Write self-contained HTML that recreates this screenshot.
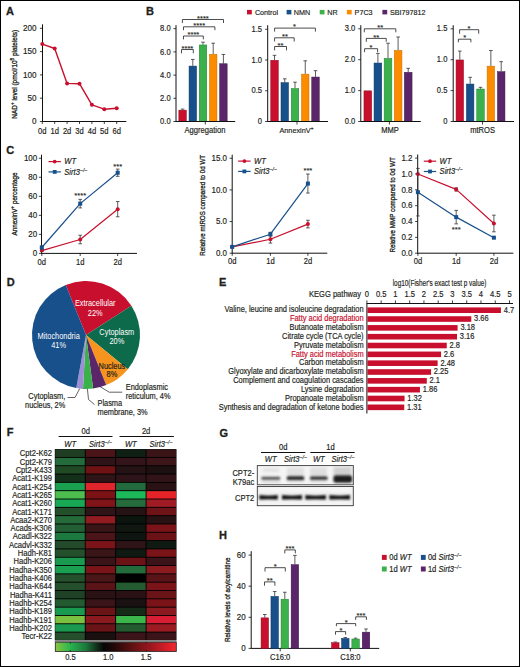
<!DOCTYPE html>
<html><head><meta charset="utf-8"><style>
html,body{margin:0;padding:0;background:#fff;}
body{width:520px;height:667px;overflow:hidden;}
svg{display:block;font-family:"Liberation Sans",sans-serif;}
text{stroke:#231f20;stroke-width:0.18px;}
</style></head><body>
<svg width="520" height="667" viewBox="0 0 520 667">
<rect x="0" y="0" width="520" height="667" fill="#fff"/>
<g fill="#231f20">
<text x="6.00" y="15.00" font-size="11" font-weight="bold" style="stroke-width:0.3px">A</text>
<line x1="42.50" y1="24.30" x2="42.50" y2="121.90" stroke="#111" stroke-width="1.0"/>
<line x1="39.90" y1="28.30" x2="42.50" y2="28.30" stroke="#111" stroke-width="0.8"/>
<text transform="translate(36.60,30.90) scale(0.9091,1)" x="0" y="0" font-size="8.91" text-anchor="end">200</text>
<line x1="39.90" y1="51.60" x2="42.50" y2="51.60" stroke="#111" stroke-width="0.8"/>
<text transform="translate(36.60,54.20) scale(0.9091,1)" x="0" y="0" font-size="8.91" text-anchor="end">150</text>
<line x1="39.90" y1="74.90" x2="42.50" y2="74.90" stroke="#111" stroke-width="0.8"/>
<text transform="translate(36.60,77.50) scale(0.9091,1)" x="0" y="0" font-size="8.91" text-anchor="end">100</text>
<line x1="39.90" y1="98.20" x2="42.50" y2="98.20" stroke="#111" stroke-width="0.8"/>
<text transform="translate(36.60,100.80) scale(0.9091,1)" x="0" y="0" font-size="8.91" text-anchor="end">50</text>
<line x1="39.90" y1="121.50" x2="42.50" y2="121.50" stroke="#111" stroke-width="0.8"/>
<text transform="translate(36.60,124.10) scale(0.9091,1)" x="0" y="0" font-size="8.91" text-anchor="end">0</text>
<line x1="42.50" y1="121.50" x2="126.30" y2="121.50" stroke="#111" stroke-width="1.0"/>
<line x1="42.30" y1="121.50" x2="42.30" y2="124.00" stroke="#111" stroke-width="0.8"/>
<text transform="translate(42.30,133.50) scale(0.9091,1)" x="0" y="0" font-size="8.36" text-anchor="middle">0d</text>
<line x1="54.70" y1="121.50" x2="54.70" y2="124.00" stroke="#111" stroke-width="0.8"/>
<text transform="translate(54.70,133.50) scale(0.9091,1)" x="0" y="0" font-size="8.36" text-anchor="middle">1d</text>
<line x1="67.10" y1="121.50" x2="67.10" y2="124.00" stroke="#111" stroke-width="0.8"/>
<text transform="translate(67.10,133.50) scale(0.9091,1)" x="0" y="0" font-size="8.36" text-anchor="middle">2d</text>
<line x1="79.50" y1="121.50" x2="79.50" y2="124.00" stroke="#111" stroke-width="0.8"/>
<text transform="translate(79.50,133.50) scale(0.9091,1)" x="0" y="0" font-size="8.36" text-anchor="middle">3d</text>
<line x1="91.90" y1="121.50" x2="91.90" y2="124.00" stroke="#111" stroke-width="0.8"/>
<text transform="translate(91.90,133.50) scale(0.9091,1)" x="0" y="0" font-size="8.36" text-anchor="middle">4d</text>
<line x1="104.30" y1="121.50" x2="104.30" y2="124.00" stroke="#111" stroke-width="0.8"/>
<text transform="translate(104.30,133.50) scale(0.9091,1)" x="0" y="0" font-size="8.36" text-anchor="middle">5d</text>
<line x1="116.70" y1="121.50" x2="116.70" y2="124.00" stroke="#111" stroke-width="0.8"/>
<text transform="translate(116.70,133.50) scale(0.9091,1)" x="0" y="0" font-size="8.36" text-anchor="middle">6d</text>
<polyline points="42.30,44.10 54.70,48.50 67.10,83.40 79.50,83.70 91.90,104.80 104.30,109.20 116.70,108.30" fill="none" stroke="#c8102e" stroke-width="1.4" stroke-linejoin="round"/>
<circle cx="42.30" cy="44.10" r="2.0" fill="#c8102e"/>
<circle cx="54.70" cy="48.50" r="2.0" fill="#c8102e"/>
<circle cx="67.10" cy="83.40" r="2.0" fill="#c8102e"/>
<circle cx="79.50" cy="83.70" r="2.0" fill="#c8102e"/>
<circle cx="91.90" cy="104.80" r="2.0" fill="#c8102e"/>
<circle cx="104.30" cy="109.20" r="2.0" fill="#c8102e"/>
<circle cx="116.70" cy="108.30" r="2.0" fill="#c8102e"/>
<text transform="translate(16.90,74.30) rotate(-90)" x="0" y="0" font-size="8.0" text-anchor="middle" textLength="88.8" lengthAdjust="spacingAndGlyphs" style="stroke-width:0.32px">NAD<tspan font-size="70%" baseline-shift="2.9">+</tspan> level (pmol/10<tspan font-size="70%" baseline-shift="2.9">8</tspan> platelets)</text>
<text x="146.00" y="14.60" font-size="11" font-weight="bold" style="stroke-width:0.3px">B</text>
<rect x="247.00" y="9.90" width="4.80" height="4.50" fill="#c8102e"/>
<text transform="translate(254.90,14.50) scale(0.9091,1)" x="0" y="0" font-size="7.92">Control</text>
<rect x="286.60" y="9.90" width="4.80" height="4.50" fill="#17508a"/>
<text transform="translate(293.80,14.50) scale(0.9091,1)" x="0" y="0" font-size="7.92">NMN</text>
<rect x="319.70" y="9.90" width="4.80" height="4.50" fill="#3ab14a"/>
<text transform="translate(327.20,14.50) scale(0.9091,1)" x="0" y="0" font-size="7.92">NR</text>
<rect x="346.90" y="9.90" width="4.80" height="4.50" fill="#fb8c00"/>
<text transform="translate(354.60,14.50) scale(0.9091,1)" x="0" y="0" font-size="7.92">P7C3</text>
<rect x="382.40" y="9.90" width="4.80" height="4.50" fill="#5a2569"/>
<text transform="translate(389.90,14.50) scale(0.9091,1)" x="0" y="0" font-size="7.92">SBI797812</text>
<line x1="176.00" y1="25.20" x2="176.00" y2="121.90" stroke="#111" stroke-width="1.0"/>
<line x1="173.40" y1="28.70" x2="176.00" y2="28.70" stroke="#111" stroke-width="0.8"/>
<text transform="translate(170.60,31.30) scale(0.9091,1)" x="0" y="0" font-size="8.36" text-anchor="end">8.0</text>
<line x1="173.40" y1="51.90" x2="176.00" y2="51.90" stroke="#111" stroke-width="0.8"/>
<text transform="translate(170.60,54.50) scale(0.9091,1)" x="0" y="0" font-size="8.36" text-anchor="end">6.0</text>
<line x1="173.40" y1="75.10" x2="176.00" y2="75.10" stroke="#111" stroke-width="0.8"/>
<text transform="translate(170.60,77.70) scale(0.9091,1)" x="0" y="0" font-size="8.36" text-anchor="end">4.0</text>
<line x1="173.40" y1="98.30" x2="176.00" y2="98.30" stroke="#111" stroke-width="0.8"/>
<text transform="translate(170.60,100.90) scale(0.9091,1)" x="0" y="0" font-size="8.36" text-anchor="end">2.0</text>
<line x1="173.40" y1="121.50" x2="176.00" y2="121.50" stroke="#111" stroke-width="0.8"/>
<text transform="translate(170.60,124.10) scale(0.9091,1)" x="0" y="0" font-size="8.36" text-anchor="end">0.0</text>
<line x1="182.60" y1="109.09" x2="182.60" y2="109.90" stroke="#333" stroke-width="0.8"/>
<line x1="180.80" y1="109.09" x2="184.40" y2="109.09" stroke="#333" stroke-width="0.8"/>
<rect x="178.85" y="110.15" width="7.50" height="11.35" fill="#c8102e" stroke="#8e0b20" stroke-width="0.5"/>
<line x1="192.80" y1="59.44" x2="192.80" y2="65.82" stroke="#333" stroke-width="0.8"/>
<line x1="191.00" y1="59.44" x2="194.60" y2="59.44" stroke="#333" stroke-width="0.8"/>
<rect x="189.05" y="66.07" width="7.50" height="55.43" fill="#17508a" stroke="#0c3762" stroke-width="0.5"/>
<line x1="203.00" y1="42.16" x2="203.00" y2="44.71" stroke="#333" stroke-width="0.8"/>
<line x1="201.20" y1="42.16" x2="204.80" y2="42.16" stroke="#333" stroke-width="0.8"/>
<rect x="199.25" y="44.96" width="7.50" height="76.54" fill="#3ab14a" stroke="#257f33" stroke-width="0.5"/>
<line x1="213.20" y1="43.20" x2="213.20" y2="53.99" stroke="#333" stroke-width="0.8"/>
<line x1="211.40" y1="43.20" x2="215.00" y2="43.20" stroke="#333" stroke-width="0.8"/>
<rect x="209.45" y="54.24" width="7.50" height="67.26" fill="#fb8c00" stroke="#c96f00" stroke-width="0.5"/>
<line x1="223.40" y1="54.45" x2="223.40" y2="63.50" stroke="#333" stroke-width="0.8"/>
<line x1="221.60" y1="54.45" x2="225.20" y2="54.45" stroke="#333" stroke-width="0.8"/>
<rect x="219.65" y="63.75" width="7.50" height="57.75" fill="#5a2569" stroke="#3b1648" stroke-width="0.5"/>
<line x1="176.00" y1="121.50" x2="235.20" y2="121.50" stroke="#111" stroke-width="1.0"/>
<line x1="205.30" y1="121.50" x2="205.30" y2="124.50" stroke="#111" stroke-width="0.8"/>

<text transform="translate(205.00,133.00) scale(0.9091,1)" x="0" y="0" font-size="8.36" text-anchor="middle">Aggregation</text>
<polyline points="181.50,53.30 181.50,49.50 193.30,49.50 193.30,53.30" fill="none" stroke="#111" stroke-width="0.75"/>
<text x="187.40" y="50.71" font-size="7.6" text-anchor="middle" style="stroke-width:0.1px">****</text>
<polyline points="183.50,39.40 183.50,36.00 203.30,36.00 203.30,39.40" fill="none" stroke="#111" stroke-width="0.75"/>
<text x="193.40" y="37.21" font-size="7.6" text-anchor="middle" style="stroke-width:0.1px">****</text>
<polyline points="183.50,30.20 183.50,26.80 214.90,26.80 214.90,30.20" fill="none" stroke="#111" stroke-width="0.75"/>
<text x="199.20" y="28.01" font-size="7.6" text-anchor="middle" style="stroke-width:0.1px">****</text>
<polyline points="182.40,23.00 182.40,19.50 223.50,19.50 223.50,23.00" fill="none" stroke="#111" stroke-width="0.75"/>
<text x="202.90" y="20.81" font-size="7.6" text-anchor="middle" style="stroke-width:0.1px">****</text>
<line x1="267.70" y1="25.20" x2="267.70" y2="121.90" stroke="#111" stroke-width="1.0"/>
<line x1="265.10" y1="29.25" x2="267.70" y2="29.25" stroke="#111" stroke-width="0.8"/>
<text transform="translate(262.00,31.85) scale(0.9091,1)" x="0" y="0" font-size="8.36" text-anchor="end">1.5</text>
<line x1="265.10" y1="60.00" x2="267.70" y2="60.00" stroke="#111" stroke-width="0.8"/>
<text transform="translate(262.00,62.60) scale(0.9091,1)" x="0" y="0" font-size="8.36" text-anchor="end">1.0</text>
<line x1="265.10" y1="90.75" x2="267.70" y2="90.75" stroke="#111" stroke-width="0.8"/>
<text transform="translate(262.00,93.35) scale(0.9091,1)" x="0" y="0" font-size="8.36" text-anchor="end">0.5</text>
<line x1="265.10" y1="121.50" x2="267.70" y2="121.50" stroke="#111" stroke-width="0.8"/>
<text transform="translate(262.00,124.10) scale(0.9091,1)" x="0" y="0" font-size="8.36" text-anchor="end">0</text>
<line x1="274.50" y1="55.33" x2="274.50" y2="60.00" stroke="#333" stroke-width="0.8"/>
<line x1="272.70" y1="55.33" x2="276.30" y2="55.33" stroke="#333" stroke-width="0.8"/>
<rect x="270.75" y="60.25" width="7.50" height="61.25" fill="#c8102e" stroke="#8e0b20" stroke-width="0.5"/>
<line x1="284.75" y1="78.82" x2="284.75" y2="82.39" stroke="#333" stroke-width="0.8"/>
<line x1="282.95" y1="78.82" x2="286.55" y2="78.82" stroke="#333" stroke-width="0.8"/>
<rect x="281.00" y="82.64" width="7.50" height="38.86" fill="#17508a" stroke="#0c3762" stroke-width="0.5"/>
<line x1="295.00" y1="82.20" x2="295.00" y2="88.29" stroke="#333" stroke-width="0.8"/>
<line x1="293.20" y1="82.20" x2="296.80" y2="82.20" stroke="#333" stroke-width="0.8"/>
<rect x="291.25" y="88.54" width="7.50" height="32.96" fill="#3ab14a" stroke="#257f33" stroke-width="0.5"/>
<line x1="305.25" y1="60.80" x2="305.25" y2="73.90" stroke="#333" stroke-width="0.8"/>
<line x1="303.45" y1="60.80" x2="307.05" y2="60.80" stroke="#333" stroke-width="0.8"/>
<rect x="301.50" y="74.15" width="7.50" height="47.35" fill="#fb8c00" stroke="#c96f00" stroke-width="0.5"/>
<line x1="315.50" y1="70.70" x2="315.50" y2="76.79" stroke="#333" stroke-width="0.8"/>
<line x1="313.70" y1="70.70" x2="317.30" y2="70.70" stroke="#333" stroke-width="0.8"/>
<rect x="311.75" y="77.04" width="7.50" height="44.46" fill="#5a2569" stroke="#3b1648" stroke-width="0.5"/>
<line x1="267.70" y1="121.50" x2="328.00" y2="121.50" stroke="#111" stroke-width="1.0"/>
<line x1="297.00" y1="121.50" x2="297.00" y2="124.50" stroke="#111" stroke-width="0.8"/>

<text transform="translate(0.00,133.00) scale(0.9091,1)" x="0" y="0" font-size="8.36" text-anchor="middle"></text>
<polyline points="274.60,50.40 274.60,46.50 286.50,46.50 286.50,50.40" fill="none" stroke="#111" stroke-width="0.75"/>
<text x="280.50" y="47.71" font-size="7.6" text-anchor="middle" style="stroke-width:0.1px">**</text>
<polyline points="274.60,41.50 274.60,37.80 294.20,37.80 294.20,41.50" fill="none" stroke="#111" stroke-width="0.75"/>
<text x="284.90" y="38.61" font-size="7.6" text-anchor="middle" style="stroke-width:0.1px">**</text>
<polyline points="274.60,31.60 274.60,28.10 315.40,28.10 315.40,31.60" fill="none" stroke="#111" stroke-width="0.75"/>
<text x="294.60" y="29.01" font-size="7.6" text-anchor="middle" style="stroke-width:0.1px">*</text>
<text transform="translate(296.60,133.20) scale(0.9091,1)" x="0" y="0" font-size="8.03" text-anchor="middle">AnnexinV<tspan font-size="5.94" dy="-3.3">+</tspan></text>
<line x1="360.80" y1="25.20" x2="360.80" y2="121.90" stroke="#111" stroke-width="1.0"/>
<line x1="358.20" y1="28.80" x2="360.80" y2="28.80" stroke="#111" stroke-width="0.8"/>
<text transform="translate(355.30,31.40) scale(0.9091,1)" x="0" y="0" font-size="8.36" text-anchor="end">3.0</text>
<line x1="358.20" y1="59.70" x2="360.80" y2="59.70" stroke="#111" stroke-width="0.8"/>
<text transform="translate(355.30,62.30) scale(0.9091,1)" x="0" y="0" font-size="8.36" text-anchor="end">2.0</text>
<line x1="358.20" y1="90.60" x2="360.80" y2="90.60" stroke="#111" stroke-width="0.8"/>
<text transform="translate(355.30,93.20) scale(0.9091,1)" x="0" y="0" font-size="8.36" text-anchor="end">1.0</text>
<line x1="358.20" y1="121.50" x2="360.80" y2="121.50" stroke="#111" stroke-width="0.8"/>
<text transform="translate(355.30,124.10) scale(0.9091,1)" x="0" y="0" font-size="8.36" text-anchor="end">0.0</text>
<rect x="363.95" y="90.85" width="7.70" height="30.65" fill="#c8102e" stroke="#8e0b20" stroke-width="0.5"/>
<line x1="377.90" y1="53.40" x2="377.90" y2="62.79" stroke="#333" stroke-width="0.8"/>
<line x1="376.10" y1="53.40" x2="379.70" y2="53.40" stroke="#333" stroke-width="0.8"/>
<rect x="374.05" y="63.04" width="7.70" height="58.46" fill="#17508a" stroke="#0c3762" stroke-width="0.5"/>
<line x1="388.00" y1="43.20" x2="388.00" y2="58.16" stroke="#333" stroke-width="0.8"/>
<line x1="386.20" y1="43.20" x2="389.80" y2="43.20" stroke="#333" stroke-width="0.8"/>
<rect x="384.15" y="58.41" width="7.70" height="63.09" fill="#3ab14a" stroke="#257f33" stroke-width="0.5"/>
<line x1="398.10" y1="36.99" x2="398.10" y2="50.12" stroke="#333" stroke-width="0.8"/>
<line x1="396.30" y1="36.99" x2="399.90" y2="36.99" stroke="#333" stroke-width="0.8"/>
<rect x="394.25" y="50.37" width="7.70" height="71.13" fill="#fb8c00" stroke="#c96f00" stroke-width="0.5"/>
<line x1="408.20" y1="68.35" x2="408.20" y2="72.06" stroke="#333" stroke-width="0.8"/>
<line x1="406.40" y1="68.35" x2="410.00" y2="68.35" stroke="#333" stroke-width="0.8"/>
<rect x="404.35" y="72.31" width="7.70" height="49.19" fill="#5a2569" stroke="#3b1648" stroke-width="0.5"/>
<line x1="360.80" y1="121.50" x2="420.80" y2="121.50" stroke="#111" stroke-width="1.0"/>
<line x1="389.40" y1="121.50" x2="389.40" y2="124.50" stroke="#111" stroke-width="0.8"/>

<text transform="translate(390.00,133.00) scale(0.9091,1)" x="0" y="0" font-size="8.36" text-anchor="middle">MMP</text>
<polyline points="364.60,52.20 364.60,48.70 377.60,48.70 377.60,52.20" fill="none" stroke="#111" stroke-width="0.75"/>
<text x="371.00" y="49.71" font-size="7.6" text-anchor="middle" style="stroke-width:0.1px">*</text>
<polyline points="366.30,41.80 366.30,38.40 386.20,38.40 386.20,41.80" fill="none" stroke="#111" stroke-width="0.75"/>
<text x="376.20" y="39.61" font-size="7.6" text-anchor="middle" style="stroke-width:0.1px">**</text>
<polyline points="364.30,32.30 364.30,28.80 395.80,28.80 395.80,32.30" fill="none" stroke="#111" stroke-width="0.75"/>
<text x="380.20" y="30.01" font-size="7.6" text-anchor="middle" style="stroke-width:0.1px">**</text>
<line x1="453.20" y1="25.20" x2="453.20" y2="121.90" stroke="#111" stroke-width="1.0"/>
<line x1="450.60" y1="28.80" x2="453.20" y2="28.80" stroke="#111" stroke-width="0.8"/>
<text transform="translate(447.40,31.40) scale(0.9091,1)" x="0" y="0" font-size="8.36" text-anchor="end">1.5</text>
<line x1="450.60" y1="59.70" x2="453.20" y2="59.70" stroke="#111" stroke-width="0.8"/>
<text transform="translate(447.40,62.30) scale(0.9091,1)" x="0" y="0" font-size="8.36" text-anchor="end">1.0</text>
<line x1="450.60" y1="90.60" x2="453.20" y2="90.60" stroke="#111" stroke-width="0.8"/>
<text transform="translate(447.40,93.20) scale(0.9091,1)" x="0" y="0" font-size="8.36" text-anchor="end">0.5</text>
<line x1="450.60" y1="121.50" x2="453.20" y2="121.50" stroke="#111" stroke-width="0.8"/>
<text transform="translate(447.40,124.10) scale(0.9091,1)" x="0" y="0" font-size="8.36" text-anchor="end">0</text>
<line x1="459.80" y1="51.05" x2="459.80" y2="59.70" stroke="#333" stroke-width="0.8"/>
<line x1="458.00" y1="51.05" x2="461.60" y2="51.05" stroke="#333" stroke-width="0.8"/>
<rect x="456.05" y="59.95" width="7.50" height="61.55" fill="#c8102e" stroke="#8e0b20" stroke-width="0.5"/>
<line x1="470.15" y1="77.31" x2="470.15" y2="83.80" stroke="#333" stroke-width="0.8"/>
<line x1="468.35" y1="77.31" x2="471.95" y2="77.31" stroke="#333" stroke-width="0.8"/>
<rect x="466.40" y="84.05" width="7.50" height="37.45" fill="#17508a" stroke="#0c3762" stroke-width="0.5"/>
<line x1="480.50" y1="87.32" x2="480.50" y2="88.75" stroke="#333" stroke-width="0.8"/>
<line x1="478.70" y1="87.32" x2="482.30" y2="87.32" stroke="#333" stroke-width="0.8"/>
<rect x="476.75" y="89.00" width="7.50" height="32.50" fill="#3ab14a" stroke="#257f33" stroke-width="0.5"/>
<line x1="490.85" y1="50.49" x2="490.85" y2="65.88" stroke="#333" stroke-width="0.8"/>
<line x1="489.05" y1="50.49" x2="492.65" y2="50.49" stroke="#333" stroke-width="0.8"/>
<rect x="487.10" y="66.13" width="7.50" height="55.37" fill="#fb8c00" stroke="#c96f00" stroke-width="0.5"/>
<line x1="501.20" y1="61.68" x2="501.20" y2="71.44" stroke="#333" stroke-width="0.8"/>
<line x1="499.40" y1="61.68" x2="503.00" y2="61.68" stroke="#333" stroke-width="0.8"/>
<rect x="497.45" y="71.69" width="7.50" height="49.81" fill="#5a2569" stroke="#3b1648" stroke-width="0.5"/>
<line x1="453.20" y1="121.50" x2="514.00" y2="121.50" stroke="#111" stroke-width="1.0"/>
<line x1="482.50" y1="121.50" x2="482.50" y2="124.50" stroke="#111" stroke-width="0.8"/>

<text transform="translate(482.60,133.00) scale(0.9091,1)" x="0" y="0" font-size="8.36" text-anchor="middle">mtROS</text>
<polyline points="458.40,42.30 458.40,39.20 470.90,39.20 470.90,42.30" fill="none" stroke="#111" stroke-width="0.75"/>
<text x="464.80" y="40.41" font-size="7.6" text-anchor="middle" style="stroke-width:0.1px">*</text>
<polyline points="459.60,33.70 459.60,29.70 478.70,29.70 478.70,33.70" fill="none" stroke="#111" stroke-width="0.75"/>
<text x="469.10" y="31.11" font-size="7.6" text-anchor="middle" style="stroke-width:0.1px">*</text>
<text x="6.20" y="154.40" font-size="11" font-weight="bold" style="stroke-width:0.3px">C</text>
<line x1="41.50" y1="154.70" x2="41.50" y2="253.80" stroke="#111" stroke-width="1.0"/>
<line x1="38.90" y1="158.25" x2="41.50" y2="158.25" stroke="#111" stroke-width="0.8"/>
<text transform="translate(37.20,160.95) scale(0.9091,1)" x="0" y="0" font-size="8.80" text-anchor="end">100</text>
<line x1="38.90" y1="177.28" x2="41.50" y2="177.28" stroke="#111" stroke-width="0.8"/>
<text transform="translate(37.20,179.98) scale(0.9091,1)" x="0" y="0" font-size="8.80" text-anchor="end">80</text>
<line x1="38.90" y1="196.31" x2="41.50" y2="196.31" stroke="#111" stroke-width="0.8"/>
<text transform="translate(37.20,199.01) scale(0.9091,1)" x="0" y="0" font-size="8.80" text-anchor="end">60</text>
<line x1="38.90" y1="215.34" x2="41.50" y2="215.34" stroke="#111" stroke-width="0.8"/>
<text transform="translate(37.20,218.04) scale(0.9091,1)" x="0" y="0" font-size="8.80" text-anchor="end">40</text>
<line x1="38.90" y1="234.37" x2="41.50" y2="234.37" stroke="#111" stroke-width="0.8"/>
<text transform="translate(37.20,237.07) scale(0.9091,1)" x="0" y="0" font-size="8.80" text-anchor="end">20</text>
<line x1="38.90" y1="253.40" x2="41.50" y2="253.40" stroke="#111" stroke-width="0.8"/>
<text transform="translate(37.20,256.10) scale(0.9091,1)" x="0" y="0" font-size="8.80" text-anchor="end">0</text>
<line x1="41.50" y1="253.40" x2="137.00" y2="253.40" stroke="#111" stroke-width="1.0"/>
<line x1="41.80" y1="253.40" x2="41.80" y2="256.00" stroke="#111" stroke-width="0.8"/>
<text transform="translate(41.80,264.60) scale(0.9091,1)" x="0" y="0" font-size="8.36" text-anchor="middle">0d</text>
<line x1="80.20" y1="253.40" x2="80.20" y2="256.00" stroke="#111" stroke-width="0.8"/>
<text transform="translate(80.20,264.60) scale(0.9091,1)" x="0" y="0" font-size="8.36" text-anchor="middle">1d</text>
<line x1="117.70" y1="253.40" x2="117.70" y2="256.00" stroke="#111" stroke-width="0.8"/>
<text transform="translate(117.70,264.60) scale(0.9091,1)" x="0" y="0" font-size="8.36" text-anchor="middle">2d</text>
<polyline points="41.80,250.55 80.20,239.51 117.70,209.16" fill="none" stroke="#c8102e" stroke-width="1.2" stroke-linejoin="round"/>
<line x1="41.80" y1="249.59" x2="41.80" y2="251.50" stroke="#333" stroke-width="0.8"/>
<line x1="40.00" y1="249.59" x2="43.60" y2="249.59" stroke="#333" stroke-width="0.8"/>
<line x1="40.00" y1="251.50" x2="43.60" y2="251.50" stroke="#333" stroke-width="0.8"/>
<circle cx="41.80" cy="250.55" r="2.0" fill="#c8102e"/>
<line x1="80.20" y1="235.23" x2="80.20" y2="243.79" stroke="#333" stroke-width="0.8"/>
<line x1="78.40" y1="235.23" x2="82.00" y2="235.23" stroke="#333" stroke-width="0.8"/>
<line x1="78.40" y1="243.79" x2="82.00" y2="243.79" stroke="#333" stroke-width="0.8"/>
<circle cx="80.20" cy="239.51" r="2.0" fill="#c8102e"/>
<line x1="117.70" y1="201.54" x2="117.70" y2="216.77" stroke="#333" stroke-width="0.8"/>
<line x1="115.90" y1="201.54" x2="119.50" y2="201.54" stroke="#333" stroke-width="0.8"/>
<line x1="115.90" y1="216.77" x2="119.50" y2="216.77" stroke="#333" stroke-width="0.8"/>
<circle cx="117.70" cy="209.16" r="2.0" fill="#c8102e"/>
<polyline points="41.80,247.50 80.20,203.64 117.70,172.71" fill="none" stroke="#17508a" stroke-width="1.2" stroke-linejoin="round"/>
<line x1="41.80" y1="246.07" x2="41.80" y2="248.93" stroke="#333" stroke-width="0.8"/>
<line x1="40.00" y1="246.07" x2="43.60" y2="246.07" stroke="#333" stroke-width="0.8"/>
<line x1="40.00" y1="248.93" x2="43.60" y2="248.93" stroke="#333" stroke-width="0.8"/>
<rect x="39.80" y="245.50" width="4.00" height="4.00" fill="#17508a"/>
<line x1="80.20" y1="199.35" x2="80.20" y2="207.92" stroke="#333" stroke-width="0.8"/>
<line x1="78.40" y1="199.35" x2="82.00" y2="199.35" stroke="#333" stroke-width="0.8"/>
<line x1="78.40" y1="207.92" x2="82.00" y2="207.92" stroke="#333" stroke-width="0.8"/>
<rect x="78.20" y="201.64" width="4.00" height="4.00" fill="#17508a"/>
<line x1="117.70" y1="169.10" x2="117.70" y2="176.33" stroke="#333" stroke-width="0.8"/>
<line x1="115.90" y1="169.10" x2="119.50" y2="169.10" stroke="#333" stroke-width="0.8"/>
<line x1="115.90" y1="176.33" x2="119.50" y2="176.33" stroke="#333" stroke-width="0.8"/>
<rect x="115.70" y="170.71" width="4.00" height="4.00" fill="#17508a"/>
<line x1="48.50" y1="161.60" x2="60.90" y2="161.60" stroke="#c8102e" stroke-width="1.2"/>
<circle cx="54.70" cy="161.60" r="1.9" fill="#c8102e"/>
<text transform="translate(64.30,164.20) scale(0.9091,1)" x="0" y="0" font-size="8.36" font-style="italic">WT</text>
<line x1="48.50" y1="171.90" x2="60.90" y2="171.90" stroke="#17508a" stroke-width="1.2"/>
<rect x="52.80" y="170.00" width="3.80" height="3.80" fill="#17508a"/>
<text transform="translate(64.30,174.50) scale(0.9091,1)" x="0" y="0" font-size="8.36" font-style="italic" text-anchor="start">Sirt3<tspan font-size="5.72" dy="-3.0">&#8722;/&#8722;</tspan></text>
<text transform="translate(17.30,204.00) rotate(-90)" x="0" y="0" font-size="8.0" text-anchor="middle" textLength="63.0" lengthAdjust="spacingAndGlyphs" style="stroke-width:0.32px">AnnexinV<tspan font-size="70%" baseline-shift="2.9">+</tspan> percentage</text>
<text x="80.20" y="197.81" font-size="7.6" text-anchor="middle" style="stroke-width:0.1px">****</text>
<text x="117.70" y="169.01" font-size="7.6" text-anchor="middle" style="stroke-width:0.1px">***</text>
<line x1="232.20" y1="154.70" x2="232.20" y2="253.60" stroke="#111" stroke-width="1.0"/>
<line x1="229.60" y1="158.25" x2="232.20" y2="158.25" stroke="#111" stroke-width="0.8"/>
<text transform="translate(227.00,160.95) scale(0.9091,1)" x="0" y="0" font-size="8.80" text-anchor="end">15.0</text>
<line x1="229.60" y1="189.90" x2="232.20" y2="189.90" stroke="#111" stroke-width="0.8"/>
<text transform="translate(227.00,192.60) scale(0.9091,1)" x="0" y="0" font-size="8.80" text-anchor="end">10.0</text>
<line x1="229.60" y1="221.55" x2="232.20" y2="221.55" stroke="#111" stroke-width="0.8"/>
<text transform="translate(227.00,224.25) scale(0.9091,1)" x="0" y="0" font-size="8.80" text-anchor="end">5.0</text>
<line x1="229.60" y1="253.20" x2="232.20" y2="253.20" stroke="#111" stroke-width="0.8"/>
<text transform="translate(227.00,255.90) scale(0.9091,1)" x="0" y="0" font-size="8.80" text-anchor="end">0.0</text>
<line x1="232.20" y1="253.20" x2="327.30" y2="253.20" stroke="#111" stroke-width="1.0"/>
<line x1="232.20" y1="253.20" x2="232.20" y2="255.80" stroke="#111" stroke-width="0.8"/>
<text transform="translate(232.20,264.40) scale(0.9091,1)" x="0" y="0" font-size="8.36" text-anchor="middle">0d</text>
<line x1="270.40" y1="253.20" x2="270.40" y2="255.80" stroke="#111" stroke-width="0.8"/>
<text transform="translate(270.40,264.40) scale(0.9091,1)" x="0" y="0" font-size="8.36" text-anchor="middle">1d</text>
<line x1="307.90" y1="253.20" x2="307.90" y2="255.80" stroke="#111" stroke-width="0.8"/>
<text transform="translate(307.90,264.40) scale(0.9091,1)" x="0" y="0" font-size="8.36" text-anchor="middle">2d</text>
<polyline points="232.20,246.87 270.40,239.27 307.90,224.08" fill="none" stroke="#c8102e" stroke-width="1.2" stroke-linejoin="round"/>
<line x1="232.20" y1="246.24" x2="232.20" y2="247.50" stroke="#333" stroke-width="0.8"/>
<line x1="230.40" y1="246.24" x2="234.00" y2="246.24" stroke="#333" stroke-width="0.8"/>
<line x1="230.40" y1="247.50" x2="234.00" y2="247.50" stroke="#333" stroke-width="0.8"/>
<circle cx="232.20" cy="246.87" r="2.0" fill="#c8102e"/>
<line x1="270.40" y1="235.48" x2="270.40" y2="243.07" stroke="#333" stroke-width="0.8"/>
<line x1="268.60" y1="235.48" x2="272.20" y2="235.48" stroke="#333" stroke-width="0.8"/>
<line x1="268.60" y1="243.07" x2="272.20" y2="243.07" stroke="#333" stroke-width="0.8"/>
<circle cx="270.40" cy="239.27" r="2.0" fill="#c8102e"/>
<line x1="307.90" y1="220.28" x2="307.90" y2="227.88" stroke="#333" stroke-width="0.8"/>
<line x1="306.10" y1="220.28" x2="309.70" y2="220.28" stroke="#333" stroke-width="0.8"/>
<line x1="306.10" y1="227.88" x2="309.70" y2="227.88" stroke="#333" stroke-width="0.8"/>
<circle cx="307.90" cy="224.08" r="2.0" fill="#c8102e"/>
<polyline points="232.20,246.87 270.40,234.21 307.90,183.57" fill="none" stroke="#17508a" stroke-width="1.2" stroke-linejoin="round"/>
<line x1="232.20" y1="246.24" x2="232.20" y2="247.50" stroke="#333" stroke-width="0.8"/>
<line x1="230.40" y1="246.24" x2="234.00" y2="246.24" stroke="#333" stroke-width="0.8"/>
<line x1="230.40" y1="247.50" x2="234.00" y2="247.50" stroke="#333" stroke-width="0.8"/>
<rect x="230.20" y="244.87" width="4.00" height="4.00" fill="#17508a"/>
<line x1="270.40" y1="232.31" x2="270.40" y2="236.11" stroke="#333" stroke-width="0.8"/>
<line x1="268.60" y1="232.31" x2="272.20" y2="232.31" stroke="#333" stroke-width="0.8"/>
<line x1="268.60" y1="236.11" x2="272.20" y2="236.11" stroke="#333" stroke-width="0.8"/>
<rect x="268.40" y="232.21" width="4.00" height="4.00" fill="#17508a"/>
<line x1="307.90" y1="174.07" x2="307.90" y2="193.06" stroke="#333" stroke-width="0.8"/>
<line x1="306.10" y1="174.07" x2="309.70" y2="174.07" stroke="#333" stroke-width="0.8"/>
<line x1="306.10" y1="193.06" x2="309.70" y2="193.06" stroke="#333" stroke-width="0.8"/>
<rect x="305.90" y="181.57" width="4.00" height="4.00" fill="#17508a"/>
<line x1="238.20" y1="161.10" x2="250.60" y2="161.10" stroke="#c8102e" stroke-width="1.2"/>
<circle cx="244.40" cy="161.10" r="1.9" fill="#c8102e"/>
<text transform="translate(254.00,163.70) scale(0.9091,1)" x="0" y="0" font-size="8.36" font-style="italic">WT</text>
<line x1="238.20" y1="171.40" x2="250.60" y2="171.40" stroke="#17508a" stroke-width="1.2"/>
<rect x="242.50" y="169.50" width="3.80" height="3.80" fill="#17508a"/>
<text transform="translate(254.00,174.00) scale(0.9091,1)" x="0" y="0" font-size="8.36" font-style="italic" text-anchor="start">Sirt3<tspan font-size="5.72" dy="-3.0">&#8722;/&#8722;</tspan></text>
<text transform="translate(205.40,205.30) rotate(-90)" x="0" y="0" font-size="8.0" text-anchor="middle" textLength="100.7" lengthAdjust="spacingAndGlyphs" style="stroke-width:0.32px">Relative mtROS compared to 0d WT</text>
<text x="307.90" y="173.41" font-size="7.6" text-anchor="middle" style="stroke-width:0.1px">***</text>
<line x1="417.70" y1="154.50" x2="417.70" y2="253.60" stroke="#111" stroke-width="1.0"/>
<line x1="415.10" y1="158.10" x2="417.70" y2="158.10" stroke="#111" stroke-width="0.8"/>
<text transform="translate(412.50,160.80) scale(0.9091,1)" x="0" y="0" font-size="8.80" text-anchor="end">1.2</text>
<line x1="415.10" y1="173.95" x2="417.70" y2="173.95" stroke="#111" stroke-width="0.8"/>
<text transform="translate(412.50,176.65) scale(0.9091,1)" x="0" y="0" font-size="8.80" text-anchor="end">1.0</text>
<line x1="415.10" y1="189.80" x2="417.70" y2="189.80" stroke="#111" stroke-width="0.8"/>
<text transform="translate(412.50,192.50) scale(0.9091,1)" x="0" y="0" font-size="8.80" text-anchor="end">0.8</text>
<line x1="415.10" y1="205.65" x2="417.70" y2="205.65" stroke="#111" stroke-width="0.8"/>
<text transform="translate(412.50,208.35) scale(0.9091,1)" x="0" y="0" font-size="8.80" text-anchor="end">0.6</text>
<line x1="415.10" y1="221.50" x2="417.70" y2="221.50" stroke="#111" stroke-width="0.8"/>
<text transform="translate(412.50,224.20) scale(0.9091,1)" x="0" y="0" font-size="8.80" text-anchor="end">0.4</text>
<line x1="415.10" y1="237.35" x2="417.70" y2="237.35" stroke="#111" stroke-width="0.8"/>
<text transform="translate(412.50,240.05) scale(0.9091,1)" x="0" y="0" font-size="8.80" text-anchor="end">0.2</text>
<line x1="415.10" y1="253.20" x2="417.70" y2="253.20" stroke="#111" stroke-width="0.8"/>
<text transform="translate(412.50,255.90) scale(0.9091,1)" x="0" y="0" font-size="8.80" text-anchor="end">0.0</text>
<line x1="417.70" y1="253.20" x2="513.30" y2="253.20" stroke="#111" stroke-width="1.0"/>
<line x1="417.90" y1="253.20" x2="417.90" y2="255.80" stroke="#111" stroke-width="0.8"/>
<text transform="translate(417.90,264.40) scale(0.9091,1)" x="0" y="0" font-size="8.36" text-anchor="middle">0d</text>
<line x1="456.20" y1="253.20" x2="456.20" y2="255.80" stroke="#111" stroke-width="0.8"/>
<text transform="translate(456.20,264.40) scale(0.9091,1)" x="0" y="0" font-size="8.36" text-anchor="middle">1d</text>
<line x1="493.90" y1="253.20" x2="493.90" y2="255.80" stroke="#111" stroke-width="0.8"/>
<text transform="translate(493.90,264.40) scale(0.9091,1)" x="0" y="0" font-size="8.36" text-anchor="middle">2d</text>
<polyline points="417.90,173.95 456.20,189.40 493.90,223.48" fill="none" stroke="#c8102e" stroke-width="1.2" stroke-linejoin="round"/>
<circle cx="417.90" cy="173.95" r="2.0" fill="#c8102e"/>
<line x1="456.20" y1="187.82" x2="456.20" y2="190.99" stroke="#333" stroke-width="0.8"/>
<line x1="454.40" y1="187.82" x2="458.00" y2="187.82" stroke="#333" stroke-width="0.8"/>
<line x1="454.40" y1="190.99" x2="458.00" y2="190.99" stroke="#333" stroke-width="0.8"/>
<circle cx="456.20" cy="189.40" r="2.0" fill="#c8102e"/>
<line x1="493.90" y1="215.16" x2="493.90" y2="231.80" stroke="#333" stroke-width="0.8"/>
<line x1="492.10" y1="215.16" x2="495.70" y2="215.16" stroke="#333" stroke-width="0.8"/>
<line x1="492.10" y1="231.80" x2="495.70" y2="231.80" stroke="#333" stroke-width="0.8"/>
<circle cx="493.90" cy="223.48" r="2.0" fill="#c8102e"/>
<polyline points="417.90,192.18 456.20,217.14 493.90,237.67" fill="none" stroke="#17508a" stroke-width="1.2" stroke-linejoin="round"/>
<line x1="417.90" y1="168.40" x2="417.90" y2="215.95" stroke="#333" stroke-width="0.8"/>
<line x1="416.10" y1="168.40" x2="419.70" y2="168.40" stroke="#333" stroke-width="0.8"/>
<line x1="416.10" y1="215.95" x2="419.70" y2="215.95" stroke="#333" stroke-width="0.8"/>
<rect x="415.90" y="190.18" width="4.00" height="4.00" fill="#17508a"/>
<line x1="456.20" y1="210.40" x2="456.20" y2="223.88" stroke="#333" stroke-width="0.8"/>
<line x1="454.40" y1="210.40" x2="458.00" y2="210.40" stroke="#333" stroke-width="0.8"/>
<line x1="454.40" y1="223.88" x2="458.00" y2="223.88" stroke="#333" stroke-width="0.8"/>
<rect x="454.20" y="215.14" width="4.00" height="4.00" fill="#17508a"/>
<rect x="491.90" y="235.67" width="4.00" height="4.00" fill="#17508a"/>
<line x1="423.80" y1="161.20" x2="436.20" y2="161.20" stroke="#c8102e" stroke-width="1.2"/>
<circle cx="430.00" cy="161.20" r="1.9" fill="#c8102e"/>
<text transform="translate(439.60,163.80) scale(0.9091,1)" x="0" y="0" font-size="8.36" font-style="italic">WT</text>
<line x1="423.80" y1="171.50" x2="436.20" y2="171.50" stroke="#17508a" stroke-width="1.2"/>
<rect x="428.10" y="169.60" width="3.80" height="3.80" fill="#17508a"/>
<text transform="translate(439.60,174.10) scale(0.9091,1)" x="0" y="0" font-size="8.36" font-style="italic" text-anchor="start">Sirt3<tspan font-size="5.72" dy="-3.0">&#8722;/&#8722;</tspan></text>
<text transform="translate(395.20,204.80) rotate(-90)" x="0" y="0" font-size="8.0" text-anchor="middle" textLength="95.5" lengthAdjust="spacingAndGlyphs" style="stroke-width:0.32px">Relative MMP compared to 0d WT</text>
<text x="456.20" y="231.91" font-size="7.6" text-anchor="middle" style="stroke-width:0.1px">***</text>
<text x="6.80" y="285.90" font-size="11" font-weight="bold" style="stroke-width:0.3px">D</text>
<path d="M86.0,335.0 L65.77,284.93 A54.0,54.0 0 0 1 131.39,305.75 Z" fill="#c8102e"/>
<path d="M86.0,335.0 L131.39,305.75 A54.0,54.0 0 0 1 127.85,369.13 Z" fill="#0d6b4c"/>
<path d="M86.0,335.0 L127.85,369.13 A54.0,54.0 0 0 1 106.23,385.07 Z" fill="#f7941d"/>
<path d="M86.0,335.0 L106.23,385.07 A54.0,54.0 0 0 1 93.14,388.53 Z" fill="#5a2569"/>
<path d="M86.0,335.0 L93.14,388.53 A54.0,54.0 0 0 1 82.99,388.92 Z" fill="#3ab14a"/>
<path d="M86.0,335.0 L82.99,388.92 A54.0,54.0 0 0 1 76.25,388.11 Z" fill="#9c8fd6"/>
<path d="M86.0,335.0 L76.25,388.11 A54.0,54.0 0 0 1 65.77,284.93 Z" fill="#17508a"/>
<text transform="translate(95.20,305.60) scale(0.9091,1)" x="0" y="0" font-size="8.14" text-anchor="middle" fill="#ffffff" style="stroke:none">Extracellular</text>
<text transform="translate(95.20,315.80) scale(0.9091,1)" x="0" y="0" font-size="8.14" text-anchor="middle" fill="#ffffff" style="stroke:none">22%</text>
<text transform="translate(58.60,338.80) scale(0.9091,1)" x="0" y="0" font-size="8.14" text-anchor="middle" fill="#ffffff" style="stroke:none">Mitochondria</text>
<text transform="translate(58.60,348.40) scale(0.9091,1)" x="0" y="0" font-size="8.14" text-anchor="middle" fill="#ffffff" style="stroke:none">41%</text>
<text transform="translate(116.80,334.50) scale(0.9091,1)" x="0" y="0" font-size="8.14" text-anchor="middle" fill="#ffffff" style="stroke:none">Cytoplasm</text>
<text transform="translate(116.80,344.00) scale(0.9091,1)" x="0" y="0" font-size="8.14" text-anchor="middle" fill="#ffffff" style="stroke:none">20%</text>
<text transform="translate(111.90,368.60) scale(0.9091,1)" x="0" y="0" font-size="8.14" text-anchor="middle">Nucleus</text>
<text transform="translate(111.90,377.20) scale(0.9091,1)" x="0" y="0" font-size="8.14" text-anchor="middle">8%</text>
<text transform="translate(65.30,398.90) scale(0.9091,1)" x="0" y="0" font-size="8.14" text-anchor="end">Cytoplasm,</text>
<text transform="translate(65.30,407.50) scale(0.9091,1)" x="0" y="0" font-size="8.14" text-anchor="end">nucleus, 2%</text>
<text transform="translate(97.50,406.30) scale(0.9091,1)" x="0" y="0" font-size="8.14">Plasma</text>
<text transform="translate(97.50,415.30) scale(0.9091,1)" x="0" y="0" font-size="8.14">membrane, 3%</text>
<text transform="translate(125.70,390.40) scale(0.9091,1)" x="0" y="0" font-size="8.14">Endoplasmic</text>
<text transform="translate(125.70,399.10) scale(0.9091,1)" x="0" y="0" font-size="8.14">reticulum, 4%</text>
<polyline points="67.60,397.50 75.00,397.50 79.70,388.60" fill="none" stroke="#231f20" stroke-width="0.7" stroke-linejoin="round"/>
<polyline points="87.40,388.80 88.50,399.40 94.50,404.60" fill="none" stroke="#231f20" stroke-width="0.7" stroke-linejoin="round"/>
<polyline points="99.70,386.40 109.20,392.20 122.20,392.20" fill="none" stroke="#231f20" stroke-width="0.7" stroke-linejoin="round"/>
<text x="219.00" y="285.70" font-size="11" font-weight="bold" style="stroke-width:0.3px">E</text>
<text transform="translate(392.70,285.50) scale(0.9091,1)" x="0" y="0" font-size="8.80" textLength="103.18" lengthAdjust="spacingAndGlyphs">log10(Fisher's exact test p value)</text>
<text transform="translate(361.00,296.80) scale(0.9091,1)" x="0" y="0" font-size="8.36" text-anchor="end" textLength="57.20" lengthAdjust="spacingAndGlyphs">KEGG pathway</text>
<text transform="translate(366.90,296.90) scale(0.9091,1)" x="0" y="0" font-size="8.36" text-anchor="middle">0</text>
<line x1="366.90" y1="300.40" x2="366.90" y2="303.50" stroke="#111" stroke-width="0.8"/>
<text transform="translate(381.16,296.90) scale(0.9091,1)" x="0" y="0" font-size="8.36" text-anchor="middle">0.5</text>
<line x1="381.16" y1="300.40" x2="381.16" y2="303.50" stroke="#111" stroke-width="0.8"/>
<text transform="translate(395.42,296.90) scale(0.9091,1)" x="0" y="0" font-size="8.36" text-anchor="middle">1</text>
<line x1="395.42" y1="300.40" x2="395.42" y2="303.50" stroke="#111" stroke-width="0.8"/>
<text transform="translate(409.68,296.90) scale(0.9091,1)" x="0" y="0" font-size="8.36" text-anchor="middle">1.5</text>
<line x1="409.68" y1="300.40" x2="409.68" y2="303.50" stroke="#111" stroke-width="0.8"/>
<text transform="translate(423.94,296.90) scale(0.9091,1)" x="0" y="0" font-size="8.36" text-anchor="middle">2</text>
<line x1="423.94" y1="300.40" x2="423.94" y2="303.50" stroke="#111" stroke-width="0.8"/>
<text transform="translate(438.20,296.90) scale(0.9091,1)" x="0" y="0" font-size="8.36" text-anchor="middle">2.5</text>
<line x1="438.20" y1="300.40" x2="438.20" y2="303.50" stroke="#111" stroke-width="0.8"/>
<text transform="translate(452.46,296.90) scale(0.9091,1)" x="0" y="0" font-size="8.36" text-anchor="middle">3</text>
<line x1="452.46" y1="300.40" x2="452.46" y2="303.50" stroke="#111" stroke-width="0.8"/>
<text transform="translate(466.72,296.90) scale(0.9091,1)" x="0" y="0" font-size="8.36" text-anchor="middle">3.5</text>
<line x1="466.72" y1="300.40" x2="466.72" y2="303.50" stroke="#111" stroke-width="0.8"/>
<text transform="translate(480.98,296.90) scale(0.9091,1)" x="0" y="0" font-size="8.36" text-anchor="middle">4</text>
<line x1="480.98" y1="300.40" x2="480.98" y2="303.50" stroke="#111" stroke-width="0.8"/>
<text transform="translate(495.24,296.90) scale(0.9091,1)" x="0" y="0" font-size="8.36" text-anchor="middle">4.5</text>
<line x1="495.24" y1="300.40" x2="495.24" y2="303.50" stroke="#111" stroke-width="0.8"/>
<text transform="translate(509.50,296.90) scale(0.9091,1)" x="0" y="0" font-size="8.36" text-anchor="middle">5</text>
<line x1="509.50" y1="300.40" x2="509.50" y2="303.50" stroke="#111" stroke-width="0.8"/>
<line x1="366.90" y1="303.50" x2="513.00" y2="303.50" stroke="#111" stroke-width="1.0"/>
<line x1="366.90" y1="303.10" x2="366.90" y2="413.50" stroke="#111" stroke-width="1.0"/>
<rect x="367.40" y="307.40" width="133.54" height="5.60" fill="#c8102e"/>
<text transform="translate(363.60,312.40) scale(0.9091,1)" x="0" y="0" font-size="8.20" text-anchor="end">Valine, leucine and isoleucine degradation</text>
<text transform="translate(503.74,312.60) scale(0.9091,1)" x="0" y="0" font-size="8.25">4.7</text>
<rect x="367.40" y="316.23" width="103.88" height="5.60" fill="#c8102e"/>
<text transform="translate(363.60,321.23) scale(0.9091,1)" x="0" y="0" font-size="8.20" text-anchor="end" fill="#c8102e" style="stroke:#c8102e">Fatty acid degradation</text>
<text transform="translate(474.08,321.43) scale(0.9091,1)" x="0" y="0" font-size="8.25">3.66</text>
<rect x="367.40" y="325.06" width="90.19" height="5.60" fill="#c8102e"/>
<text transform="translate(363.60,330.06) scale(0.9091,1)" x="0" y="0" font-size="8.20" text-anchor="end">Butanoate metabolism</text>
<text transform="translate(460.39,330.26) scale(0.9091,1)" x="0" y="0" font-size="8.25">3.18</text>
<rect x="367.40" y="333.89" width="89.62" height="5.60" fill="#c8102e"/>
<text transform="translate(363.60,338.89) scale(0.9091,1)" x="0" y="0" font-size="8.20" text-anchor="end">Citrate cycle (TCA cycle)</text>
<text transform="translate(459.82,339.09) scale(0.9091,1)" x="0" y="0" font-size="8.25">3.16</text>
<rect x="367.40" y="342.72" width="79.36" height="5.60" fill="#c8102e"/>
<text transform="translate(363.60,347.72) scale(0.9091,1)" x="0" y="0" font-size="8.20" text-anchor="end">Pyruvate metabolism</text>
<text transform="translate(449.56,347.92) scale(0.9091,1)" x="0" y="0" font-size="8.25">2.8</text>
<rect x="367.40" y="351.55" width="73.65" height="5.60" fill="#c8102e"/>
<text transform="translate(363.60,356.55) scale(0.9091,1)" x="0" y="0" font-size="8.20" text-anchor="end" fill="#c8102e" style="stroke:#c8102e">Fatty acid metabolism</text>
<text transform="translate(443.85,356.75) scale(0.9091,1)" x="0" y="0" font-size="8.25">2.6</text>
<rect x="367.40" y="360.38" width="70.23" height="5.60" fill="#c8102e"/>
<text transform="translate(363.60,365.38) scale(0.9091,1)" x="0" y="0" font-size="8.20" text-anchor="end">Carbon metabolism</text>
<text transform="translate(440.43,365.58) scale(0.9091,1)" x="0" y="0" font-size="8.25">2.48</text>
<rect x="367.40" y="369.21" width="63.67" height="5.60" fill="#c8102e"/>
<text transform="translate(363.60,374.21) scale(0.9091,1)" x="0" y="0" font-size="8.20" text-anchor="end">Glyoxylate and dicarboxylate metabolism</text>
<text transform="translate(433.87,374.41) scale(0.9091,1)" x="0" y="0" font-size="8.25">2.25</text>
<rect x="367.40" y="378.04" width="59.39" height="5.60" fill="#c8102e"/>
<text transform="translate(363.60,383.04) scale(0.9091,1)" x="0" y="0" font-size="8.20" text-anchor="end">Complement and coagulation cascades</text>
<text transform="translate(429.59,383.24) scale(0.9091,1)" x="0" y="0" font-size="8.25">2.1</text>
<rect x="367.40" y="386.87" width="52.55" height="5.60" fill="#c8102e"/>
<text transform="translate(363.60,391.87) scale(0.9091,1)" x="0" y="0" font-size="8.20" text-anchor="end">Lysine degradation</text>
<text transform="translate(422.75,392.07) scale(0.9091,1)" x="0" y="0" font-size="8.25">1.86</text>
<rect x="367.40" y="395.70" width="37.15" height="5.60" fill="#c8102e"/>
<text transform="translate(363.60,400.70) scale(0.9091,1)" x="0" y="0" font-size="8.20" text-anchor="end">Propanoate metabolism</text>
<text transform="translate(407.35,400.90) scale(0.9091,1)" x="0" y="0" font-size="8.25">1.32</text>
<rect x="367.40" y="404.53" width="36.86" height="5.60" fill="#c8102e"/>
<text transform="translate(363.60,409.53) scale(0.9091,1)" x="0" y="0" font-size="8.20" text-anchor="end">Synthesis and degradation of ketone bodies</text>
<text transform="translate(407.06,409.73) scale(0.9091,1)" x="0" y="0" font-size="8.25">1.31</text>
<text x="6.80" y="436.30" font-size="11" font-weight="bold" style="stroke-width:0.3px">F</text>
<text transform="translate(85.80,434.40) scale(0.9091,1)" x="0" y="0" font-size="8.36" text-anchor="middle">0d</text>
<line x1="58.60" y1="436.50" x2="112.50" y2="436.50" stroke="#111" stroke-width="1.0"/>
<text transform="translate(146.10,434.40) scale(0.9091,1)" x="0" y="0" font-size="8.36" text-anchor="middle">2d</text>
<line x1="119.50" y1="436.50" x2="173.90" y2="436.50" stroke="#111" stroke-width="1.0"/>
<text transform="translate(70.20,446.50) scale(0.9091,1)" x="0" y="0" font-size="8.36" text-anchor="middle" font-style="italic">WT</text>
<text transform="translate(100.60,446.50) scale(0.9091,1)" x="0" y="0" font-size="8.36" font-style="italic" text-anchor="middle">Sirt3<tspan font-size="5.72" dy="-3.0">&#8722;/&#8722;</tspan></text>
<text transform="translate(130.80,446.50) scale(0.9091,1)" x="0" y="0" font-size="8.36" text-anchor="middle" font-style="italic">WT</text>
<text transform="translate(161.00,446.50) scale(0.9091,1)" x="0" y="0" font-size="8.36" font-style="italic" text-anchor="middle">Sirt3<tspan font-size="5.72" dy="-3.0">&#8722;/&#8722;</tspan></text>
<rect x="54.80" y="449.10" width="121.70" height="191.30" fill="#000"/>
<rect x="55.25" y="449.55" width="29.53" height="7.42" fill="#1e3d22"/>
<rect x="85.67" y="449.55" width="29.53" height="7.42" fill="#4a1418"/>
<rect x="116.10" y="449.55" width="29.53" height="7.42" fill="#0f1f14"/>
<rect x="146.52" y="449.55" width="29.53" height="7.42" fill="#3a1416"/>
<text transform="translate(51.90,456.30) scale(0.9091,1)" x="0" y="0" font-size="8.36" text-anchor="end">Cpt2-K62</text>
<rect x="55.25" y="457.87" width="29.53" height="7.42" fill="#236b3a"/>
<rect x="85.67" y="457.87" width="29.53" height="7.42" fill="#2e1416"/>
<rect x="116.10" y="457.87" width="29.53" height="7.42" fill="#32141a"/>
<rect x="146.52" y="457.87" width="29.53" height="7.42" fill="#3d161a"/>
<text transform="translate(51.90,464.62) scale(0.9091,1)" x="0" y="0" font-size="8.36" text-anchor="end">Cpt2-K79</text>
<rect x="55.25" y="466.18" width="29.53" height="7.42" fill="#1f4a24"/>
<rect x="85.67" y="466.18" width="29.53" height="7.42" fill="#6e1214"/>
<rect x="116.10" y="466.18" width="29.53" height="7.42" fill="#241214"/>
<rect x="146.52" y="466.18" width="29.53" height="7.42" fill="#1c1010"/>
<text transform="translate(51.90,472.93) scale(0.9091,1)" x="0" y="0" font-size="8.36" text-anchor="end">Cpt2-K433</text>
<rect x="55.25" y="474.50" width="29.53" height="7.42" fill="#15301a"/>
<rect x="85.67" y="474.50" width="29.53" height="7.42" fill="#2e1416"/>
<rect x="116.10" y="474.50" width="29.53" height="7.42" fill="#2e1418"/>
<rect x="146.52" y="474.50" width="29.53" height="7.42" fill="#321418"/>
<text transform="translate(51.90,481.25) scale(0.9091,1)" x="0" y="0" font-size="8.36" text-anchor="end">Acat1-K199</text>
<rect x="55.25" y="482.82" width="29.53" height="7.42" fill="#1aa050"/>
<rect x="85.67" y="482.82" width="29.53" height="7.42" fill="#e0252d"/>
<rect x="116.10" y="482.82" width="29.53" height="7.42" fill="#236b3c"/>
<rect x="146.52" y="482.82" width="29.53" height="7.42" fill="#2a1214"/>
<text transform="translate(51.90,489.57) scale(0.9091,1)" x="0" y="0" font-size="8.36" text-anchor="end">Acat1-K254</text>
<rect x="55.25" y="491.14" width="29.53" height="7.42" fill="#4cbd4e"/>
<rect x="85.67" y="491.14" width="29.53" height="7.42" fill="#7a1216"/>
<rect x="116.10" y="491.14" width="29.53" height="7.42" fill="#1db85a"/>
<rect x="146.52" y="491.14" width="29.53" height="7.42" fill="#e52329"/>
<text transform="translate(51.90,497.89) scale(0.9091,1)" x="0" y="0" font-size="8.36" text-anchor="end">Acat1-K265</text>
<rect x="55.25" y="499.45" width="29.53" height="7.42" fill="#19a856"/>
<rect x="85.67" y="499.45" width="29.53" height="7.42" fill="#801418"/>
<rect x="116.10" y="499.45" width="29.53" height="7.42" fill="#256b3c"/>
<rect x="146.52" y="499.45" width="29.53" height="7.42" fill="#a01c24"/>
<text transform="translate(51.90,506.20) scale(0.9091,1)" x="0" y="0" font-size="8.36" text-anchor="end">Acat1-K260</text>
<rect x="55.25" y="507.77" width="29.53" height="7.42" fill="#244f2b"/>
<rect x="85.67" y="507.77" width="29.53" height="7.42" fill="#2e1416"/>
<rect x="116.10" y="507.77" width="29.53" height="7.42" fill="#241214"/>
<rect x="146.52" y="507.77" width="29.53" height="7.42" fill="#6e1418"/>
<text transform="translate(51.90,514.52) scale(0.9091,1)" x="0" y="0" font-size="8.36" text-anchor="end">Acat1-K171</text>
<rect x="55.25" y="516.09" width="29.53" height="7.42" fill="#256b3a"/>
<rect x="85.67" y="516.09" width="29.53" height="7.42" fill="#901c22"/>
<rect x="116.10" y="516.09" width="29.53" height="7.42" fill="#0c140e"/>
<rect x="146.52" y="516.09" width="29.53" height="7.42" fill="#281214"/>
<text transform="translate(51.90,522.84) scale(0.9091,1)" x="0" y="0" font-size="8.36" text-anchor="end">Acaa2-K270</text>
<rect x="55.25" y="524.41" width="29.53" height="7.42" fill="#235f34"/>
<rect x="85.67" y="524.41" width="29.53" height="7.42" fill="#3a1518"/>
<rect x="116.10" y="524.41" width="29.53" height="7.42" fill="#101610"/>
<rect x="146.52" y="524.41" width="29.53" height="7.42" fill="#7a1418"/>
<text transform="translate(51.90,531.16) scale(0.9091,1)" x="0" y="0" font-size="8.36" text-anchor="end">Acads-K306</text>
<rect x="55.25" y="532.72" width="29.53" height="7.42" fill="#1c7a40"/>
<rect x="85.67" y="532.72" width="29.53" height="7.42" fill="#4a1418"/>
<rect x="116.10" y="532.72" width="29.53" height="7.42" fill="#0e1410"/>
<rect x="146.52" y="532.72" width="29.53" height="7.42" fill="#6a1216"/>
<text transform="translate(51.90,539.47) scale(0.9091,1)" x="0" y="0" font-size="8.36" text-anchor="end">Acadl-K322</text>
<rect x="55.25" y="541.04" width="29.53" height="7.42" fill="#234a2a"/>
<rect x="85.67" y="541.04" width="29.53" height="7.42" fill="#7a1418"/>
<rect x="116.10" y="541.04" width="29.53" height="7.42" fill="#2e1416"/>
<rect x="146.52" y="541.04" width="29.53" height="7.42" fill="#0f1a12"/>
<text transform="translate(51.90,547.79) scale(0.9091,1)" x="0" y="0" font-size="8.36" text-anchor="end">Acadvl-K332</text>
<rect x="55.25" y="549.36" width="29.53" height="7.42" fill="#24502c"/>
<rect x="85.67" y="549.36" width="29.53" height="7.42" fill="#3a1618"/>
<rect x="116.10" y="549.36" width="29.53" height="7.42" fill="#0f1a12"/>
<rect x="146.52" y="549.36" width="29.53" height="7.42" fill="#7a1418"/>
<text transform="translate(51.90,556.11) scale(0.9091,1)" x="0" y="0" font-size="8.36" text-anchor="end">Hadh-K81</text>
<rect x="55.25" y="557.68" width="29.53" height="7.42" fill="#1a9a50"/>
<rect x="85.67" y="557.68" width="29.53" height="7.42" fill="#3a1418"/>
<rect x="116.10" y="557.68" width="29.53" height="7.42" fill="#6a1216"/>
<rect x="146.52" y="557.68" width="29.53" height="7.42" fill="#3a1418"/>
<text transform="translate(51.90,564.43) scale(0.9091,1)" x="0" y="0" font-size="8.36" text-anchor="end">Hadh-K206</text>
<rect x="55.25" y="565.99" width="29.53" height="7.42" fill="#1aa050"/>
<rect x="85.67" y="565.99" width="29.53" height="7.42" fill="#7a1418"/>
<rect x="116.10" y="565.99" width="29.53" height="7.42" fill="#236b3a"/>
<rect x="146.52" y="565.99" width="29.53" height="7.42" fill="#8a1c20"/>
<text transform="translate(51.90,572.74) scale(0.9091,1)" x="0" y="0" font-size="8.36" text-anchor="end">Hadha-K350</text>
<rect x="55.25" y="574.31" width="29.53" height="7.42" fill="#24502c"/>
<rect x="85.67" y="574.31" width="29.53" height="7.42" fill="#4a1618"/>
<rect x="116.10" y="574.31" width="29.53" height="7.42" fill="#000000"/>
<rect x="146.52" y="574.31" width="29.53" height="7.42" fill="#5a1418"/>
<text transform="translate(51.90,581.06) scale(0.9091,1)" x="0" y="0" font-size="8.36" text-anchor="end">Hadha-K406</text>
<rect x="55.25" y="582.63" width="29.53" height="7.42" fill="#244e2c"/>
<rect x="85.67" y="582.63" width="29.53" height="7.42" fill="#5a1418"/>
<rect x="116.10" y="582.63" width="29.53" height="7.42" fill="#245a30"/>
<rect x="146.52" y="582.63" width="29.53" height="7.42" fill="#7a1418"/>
<text transform="translate(51.90,589.38) scale(0.9091,1)" x="0" y="0" font-size="8.36" text-anchor="end">Hadha-K644</text>
<rect x="55.25" y="590.95" width="29.53" height="7.42" fill="#1f4226"/>
<rect x="85.67" y="590.95" width="29.53" height="7.42" fill="#2a1214"/>
<rect x="116.10" y="590.95" width="29.53" height="7.42" fill="#2a1214"/>
<rect x="146.52" y="590.95" width="29.53" height="7.42" fill="#6a1418"/>
<text transform="translate(51.90,597.70) scale(0.9091,1)" x="0" y="0" font-size="8.36" text-anchor="end">Hadha-K411</text>
<rect x="55.25" y="599.26" width="29.53" height="7.42" fill="#245a30"/>
<rect x="85.67" y="599.26" width="29.53" height="7.42" fill="#3a1416"/>
<rect x="116.10" y="599.26" width="29.53" height="7.42" fill="#1a1212"/>
<rect x="146.52" y="599.26" width="29.53" height="7.42" fill="#7a1418"/>
<text transform="translate(51.90,606.01) scale(0.9091,1)" x="0" y="0" font-size="8.36" text-anchor="end">Hadhb-K254</text>
<rect x="55.25" y="607.58" width="29.53" height="7.42" fill="#1a9a50"/>
<rect x="85.67" y="607.58" width="29.53" height="7.42" fill="#6a1418"/>
<rect x="116.10" y="607.58" width="29.53" height="7.42" fill="#162a18"/>
<rect x="146.52" y="607.58" width="29.53" height="7.42" fill="#8a1a20"/>
<text transform="translate(51.90,614.33) scale(0.9091,1)" x="0" y="0" font-size="8.36" text-anchor="end">Hadhb-K189</text>
<rect x="55.25" y="615.90" width="29.53" height="7.42" fill="#7ac142"/>
<rect x="85.67" y="615.90" width="29.53" height="7.42" fill="#8a1a20"/>
<rect x="116.10" y="615.90" width="29.53" height="7.42" fill="#3cb54a"/>
<rect x="146.52" y="615.90" width="29.53" height="7.42" fill="#d81e34"/>
<text transform="translate(51.90,622.65) scale(0.9091,1)" x="0" y="0" font-size="8.36" text-anchor="end">Hadhb-K191</text>
<rect x="55.25" y="624.22" width="29.53" height="7.42" fill="#1a9a50"/>
<rect x="85.67" y="624.22" width="29.53" height="7.42" fill="#6a1418"/>
<rect x="116.10" y="624.22" width="29.53" height="7.42" fill="#245a30"/>
<rect x="146.52" y="624.22" width="29.53" height="7.42" fill="#9a1c22"/>
<text transform="translate(51.90,630.97) scale(0.9091,1)" x="0" y="0" font-size="8.36" text-anchor="end">Hadhb-K202</text>
<rect x="55.25" y="632.53" width="29.53" height="7.42" fill="#244e2c"/>
<rect x="85.67" y="632.53" width="29.53" height="7.42" fill="#1a1010"/>
<rect x="116.10" y="632.53" width="29.53" height="7.42" fill="#3a1418"/>
<rect x="146.52" y="632.53" width="29.53" height="7.42" fill="#3a1418"/>
<text transform="translate(51.90,639.28) scale(0.9091,1)" x="0" y="0" font-size="8.36" text-anchor="end">Tecr-K22</text>
<defs><linearGradient id="cb" x1="0" x2="1" y1="0" y2="0"><stop offset="0" stop-color="#8cc63f"/><stop offset="0.12" stop-color="#2bb54f"/><stop offset="0.25" stop-color="#1c7a3c"/><stop offset="0.36" stop-color="#0e2214"/><stop offset="0.40" stop-color="#050505"/><stop offset="0.47" stop-color="#1a0808"/><stop offset="0.62" stop-color="#5a1010"/><stop offset="0.80" stop-color="#a01820"/><stop offset="0.95" stop-color="#e3202a"/><stop offset="1" stop-color="#ee2a36"/></linearGradient></defs>
<line x1="54.80" y1="641.20" x2="176.50" y2="641.20" stroke="#555" stroke-width="0.9"/>
<rect x="55.30" y="642.20" width="121.00" height="9.20" fill="url(#cb)" stroke="#231f20" stroke-width="0.8"/>
<line x1="70.40" y1="642.20" x2="70.40" y2="643.60" stroke="#111" stroke-width="0.7"/>
<line x1="70.40" y1="650.00" x2="70.40" y2="651.40" stroke="#111" stroke-width="0.7"/>
<text transform="translate(70.40,660.30) scale(0.9091,1)" x="0" y="0" font-size="8.36" text-anchor="middle">0.5</text>
<line x1="108.20" y1="642.20" x2="108.20" y2="643.60" stroke="#111" stroke-width="0.7"/>
<line x1="108.20" y1="650.00" x2="108.20" y2="651.40" stroke="#111" stroke-width="0.7"/>
<text transform="translate(108.20,660.30) scale(0.9091,1)" x="0" y="0" font-size="8.36" text-anchor="middle">1.0</text>
<line x1="146.10" y1="642.20" x2="146.10" y2="643.60" stroke="#111" stroke-width="0.7"/>
<line x1="146.10" y1="650.00" x2="146.10" y2="651.40" stroke="#111" stroke-width="0.7"/>
<text transform="translate(146.10,660.30) scale(0.9091,1)" x="0" y="0" font-size="8.36" text-anchor="middle">1.5</text>
<text x="219.60" y="436.50" font-size="11" font-weight="bold" style="stroke-width:0.3px">G</text>
<text transform="translate(283.20,450.20) scale(0.9091,1)" x="0" y="0" font-size="8.36" text-anchor="middle">0d</text>
<line x1="261.00" y1="452.50" x2="305.40" y2="452.50" stroke="#111" stroke-width="1.0"/>
<text transform="translate(330.40,450.20) scale(0.9091,1)" x="0" y="0" font-size="8.36" text-anchor="middle">1d</text>
<line x1="310.30" y1="452.50" x2="354.70" y2="452.50" stroke="#111" stroke-width="1.0"/>
<text transform="translate(270.70,462.20) scale(0.9091,1)" x="0" y="0" font-size="8.36" text-anchor="middle" font-style="italic">WT</text>
<text transform="translate(295.50,462.20) scale(0.9091,1)" x="0" y="0" font-size="8.36" font-style="italic" text-anchor="middle">Sirt3<tspan font-size="5.72" dy="-3.0">&#8722;/&#8722;</tspan></text>
<text transform="translate(318.80,462.20) scale(0.9091,1)" x="0" y="0" font-size="8.36" text-anchor="middle" font-style="italic">WT</text>
<text transform="translate(343.00,462.20) scale(0.9091,1)" x="0" y="0" font-size="8.36" font-style="italic" text-anchor="middle">Sirt3<tspan font-size="5.72" dy="-3.0">&#8722;/&#8722;</tspan></text>
<defs><filter id="bl" x="-20%" y="-50%" width="140%" height="200%"><feGaussianBlur stdDeviation="0.8"/></filter><filter id="bl2" x="-20%" y="-50%" width="140%" height="200%"><feGaussianBlur stdDeviation="1.2"/></filter></defs>
<defs><filter id="bl3" x="-30%" y="-80%" width="160%" height="260%"><feGaussianBlur stdDeviation="1.6"/></filter></defs>
<rect x="257.30" y="465.60" width="96.00" height="19.20" fill="#f5f5f5"/>
<g filter="url(#bl3)"><rect x="263" y="468" width="16" height="4" fill="#e2e2e2"/><rect x="287" y="467.5" width="17" height="15" fill="#e0e0e0"/><rect x="310" y="467.5" width="17" height="15" fill="#dedede"/><rect x="333.5" y="467" width="18" height="16" fill="#cfcfcf"/><rect x="262" y="480.5" width="18" height="2.5" fill="#d8d8d8"/></g>
<g filter="url(#bl)"><rect x="261.3" y="476.8" width="19.0" height="3.0" rx="1.2" fill="#555"/><rect x="286.8" y="476.3" width="17.4" height="3.7" rx="1.5" fill="#2a2a2a"/><rect x="310.0" y="476.4" width="17.7" height="3.4" rx="1.5" fill="#303030"/><rect x="333.6" y="475.6" width="18.4" height="7.0" rx="2" fill="#1a1a1a"/></g>
<rect x="257.30" y="465.60" width="96.00" height="19.20" fill="none" stroke="#3a3a3a" stroke-width="0.9"/>
<rect x="257.30" y="486.50" width="96.00" height="19.20" fill="#efefef"/>
<g filter="url(#bl3)"><rect x="259" y="487.5" width="92" height="4" fill="#f8f8f8"/><rect x="259" y="501.5" width="92" height="3" fill="#f6f6f6"/></g>
<g filter="url(#bl)"><path d="M259.4,495.0 Q268.59999999999997,496.6 277.79999999999995,495.0 L277.79999999999995,499.4 Q268.59999999999997,499.0 259.4,499.4 Z" fill="#0a0a0a"/><path d="M282.0,495.0 Q292.0,496.6 302.0,495.0 L302.0,499.4 Q292.0,499.0 282.0,499.4 Z" fill="#0a0a0a"/><path d="M305.4,495.0 Q315.65,496.6 325.9,495.0 L325.9,499.4 Q315.65,499.0 305.4,499.4 Z" fill="#0a0a0a"/><path d="M329.4,495.0 Q339.7,496.6 350.0,495.0 L350.0,499.4 Q339.7,499.0 329.4,499.4 Z" fill="#0a0a0a"/></g>
<rect x="257.30" y="486.50" width="96.00" height="19.20" fill="none" stroke="#3a3a3a" stroke-width="0.9"/>
<text transform="translate(254.30,475.50) scale(0.9091,1)" x="0" y="0" font-size="8.36" text-anchor="end">CPT2-</text>
<text transform="translate(254.30,484.60) scale(0.9091,1)" x="0" y="0" font-size="8.36" text-anchor="end">K79ac</text>
<text transform="translate(254.30,500.60) scale(0.9091,1)" x="0" y="0" font-size="8.36" text-anchor="end">CPT2</text>
<text x="219.00" y="539.00" font-size="11" font-weight="bold" style="stroke-width:0.3px">H</text>
<line x1="251.20" y1="551.20" x2="251.20" y2="648.80" stroke="#111" stroke-width="1.0"/>
<line x1="248.60" y1="555.10" x2="251.20" y2="555.10" stroke="#111" stroke-width="0.8"/>
<text transform="translate(245.60,557.80) scale(0.9091,1)" x="0" y="0" font-size="8.80" text-anchor="end">60</text>
<line x1="248.60" y1="586.20" x2="251.20" y2="586.20" stroke="#111" stroke-width="0.8"/>
<text transform="translate(245.60,588.90) scale(0.9091,1)" x="0" y="0" font-size="8.80" text-anchor="end">40</text>
<line x1="248.60" y1="617.30" x2="251.20" y2="617.30" stroke="#111" stroke-width="0.8"/>
<text transform="translate(245.60,620.00) scale(0.9091,1)" x="0" y="0" font-size="8.80" text-anchor="end">20</text>
<line x1="248.60" y1="648.40" x2="251.20" y2="648.40" stroke="#111" stroke-width="0.8"/>
<text transform="translate(245.60,651.10) scale(0.9091,1)" x="0" y="0" font-size="8.80" text-anchor="end">0</text>
<line x1="251.20" y1="648.40" x2="379.20" y2="648.40" stroke="#111" stroke-width="1.0"/>
<line x1="280.20" y1="648.40" x2="280.20" y2="651.40" stroke="#111" stroke-width="0.8"/>
<line x1="350.30" y1="648.40" x2="350.30" y2="651.40" stroke="#111" stroke-width="0.8"/>
<text transform="translate(280.20,660.00) scale(0.9091,1)" x="0" y="0" font-size="8.36" text-anchor="middle">C16:0</text>
<text transform="translate(350.40,660.00) scale(0.9091,1)" x="0" y="0" font-size="8.36" text-anchor="middle">C18:0</text>
<line x1="264.80" y1="614.50" x2="264.80" y2="617.61" stroke="#333" stroke-width="0.8"/>
<line x1="263.00" y1="614.50" x2="266.60" y2="614.50" stroke="#333" stroke-width="0.8"/>
<rect x="261.05" y="617.86" width="7.50" height="30.54" fill="#c8102e" stroke="#8e0b20" stroke-width="0.5"/>
<line x1="274.70" y1="591.49" x2="274.70" y2="596.15" stroke="#333" stroke-width="0.8"/>
<line x1="272.90" y1="591.49" x2="276.50" y2="591.49" stroke="#333" stroke-width="0.8"/>
<rect x="270.95" y="596.40" width="7.50" height="52.00" fill="#17508a" stroke="#0c3762" stroke-width="0.5"/>
<line x1="284.80" y1="592.26" x2="284.80" y2="598.95" stroke="#333" stroke-width="0.8"/>
<line x1="283.00" y1="592.26" x2="286.60" y2="592.26" stroke="#333" stroke-width="0.8"/>
<rect x="281.05" y="599.20" width="7.50" height="49.20" fill="#3ab14a" stroke="#257f33" stroke-width="0.5"/>
<line x1="294.90" y1="555.41" x2="294.90" y2="564.43" stroke="#333" stroke-width="0.8"/>
<line x1="293.10" y1="555.41" x2="296.70" y2="555.41" stroke="#333" stroke-width="0.8"/>
<rect x="291.15" y="564.68" width="7.50" height="83.72" fill="#5a2569" stroke="#3b1648" stroke-width="0.5"/>
<line x1="335.30" y1="642.02" x2="335.30" y2="642.49" stroke="#333" stroke-width="0.8"/>
<line x1="333.50" y1="642.02" x2="337.10" y2="642.02" stroke="#333" stroke-width="0.8"/>
<rect x="331.55" y="642.74" width="7.50" height="5.66" fill="#c8102e" stroke="#8e0b20" stroke-width="0.5"/>
<line x1="345.30" y1="637.51" x2="345.30" y2="638.14" stroke="#333" stroke-width="0.8"/>
<line x1="343.50" y1="637.51" x2="347.10" y2="637.51" stroke="#333" stroke-width="0.8"/>
<rect x="341.55" y="638.39" width="7.50" height="10.01" fill="#17508a" stroke="#0c3762" stroke-width="0.5"/>
<line x1="355.60" y1="638.14" x2="355.60" y2="638.76" stroke="#333" stroke-width="0.8"/>
<line x1="353.80" y1="638.14" x2="357.40" y2="638.14" stroke="#333" stroke-width="0.8"/>
<rect x="351.85" y="639.01" width="7.50" height="9.39" fill="#3ab14a" stroke="#257f33" stroke-width="0.5"/>
<line x1="366.00" y1="628.96" x2="366.00" y2="631.92" stroke="#333" stroke-width="0.8"/>
<line x1="364.20" y1="628.96" x2="367.80" y2="628.96" stroke="#333" stroke-width="0.8"/>
<rect x="362.25" y="632.17" width="7.50" height="16.23" fill="#5a2569" stroke="#3b1648" stroke-width="0.5"/>
<polyline points="264.50,585.70 264.50,581.90 274.90,581.90 274.90,585.70" fill="none" stroke="#111" stroke-width="0.75"/>
<text x="269.70" y="583.01" font-size="7.6" text-anchor="middle" style="stroke-width:0.1px">**</text>
<polyline points="265.00,571.50 265.00,567.70 285.30,567.70 285.30,571.50" fill="none" stroke="#111" stroke-width="0.75"/>
<text x="275.20" y="569.41" font-size="7.6" text-anchor="middle" style="stroke-width:0.1px">*</text>
<polyline points="284.80,553.40 284.80,549.90 295.30,549.90 295.30,553.40" fill="none" stroke="#111" stroke-width="0.75"/>
<text x="290.00" y="551.21" font-size="7.6" text-anchor="middle" style="stroke-width:0.1px">***</text>
<polyline points="335.50,634.70 335.50,631.60 345.60,631.60 345.60,634.70" fill="none" stroke="#111" stroke-width="0.75"/>
<text x="340.90" y="633.01" font-size="7.6" text-anchor="middle" style="stroke-width:0.1px">*</text>
<polyline points="336.40,626.20 336.40,623.60 355.70,623.60 355.70,626.20" fill="none" stroke="#111" stroke-width="0.75"/>
<text x="346.20" y="624.81" font-size="7.6" text-anchor="middle" style="stroke-width:0.1px">*</text>
<polyline points="355.70,619.90 355.70,616.80 366.40,616.80 366.40,619.90" fill="none" stroke="#111" stroke-width="0.75"/>
<text x="361.00" y="618.21" font-size="7.6" text-anchor="middle" style="stroke-width:0.1px">***</text>
<text transform="translate(229.60,599.80) rotate(-90)" x="0" y="0" font-size="8.0" text-anchor="middle" textLength="84.4" lengthAdjust="spacingAndGlyphs" style="stroke-width:0.32px">Relative levels of acylcarnitine</text>
<rect x="381.90" y="554.90" width="4.80" height="5.00" fill="#c8102e"/>
<text transform="translate(389.20,560.10) scale(0.9091,1)" x="0" y="0" font-size="8.36">0d <tspan font-style="italic">WT</tspan></text>
<rect x="420.90" y="554.90" width="4.80" height="5.00" fill="#17508a"/>
<text transform="translate(427.90,560.10) scale(0.9091,1)" x="0" y="0" font-size="8.36">0d <tspan font-style="italic">Sirt3</tspan><tspan font-style="italic" font-size="5.72" dy="-3.0">&#8722;/&#8722;</tspan></text>
<rect x="381.90" y="566.50" width="4.80" height="5.00" fill="#3ab14a"/>
<text transform="translate(389.20,571.70) scale(0.9091,1)" x="0" y="0" font-size="8.36">1d <tspan font-style="italic">WT</tspan></text>
<rect x="420.90" y="566.50" width="4.80" height="5.00" fill="#5a2569"/>
<text transform="translate(427.90,571.70) scale(0.9091,1)" x="0" y="0" font-size="8.36">1d <tspan font-style="italic">Sirt3</tspan><tspan font-style="italic" font-size="5.72" dy="-3.0">&#8722;/&#8722;</tspan></text>
</g>
<rect x="0.5" y="0.5" width="519" height="666" fill="none" stroke="#000" stroke-width="1"/>
</svg>
</body></html>
